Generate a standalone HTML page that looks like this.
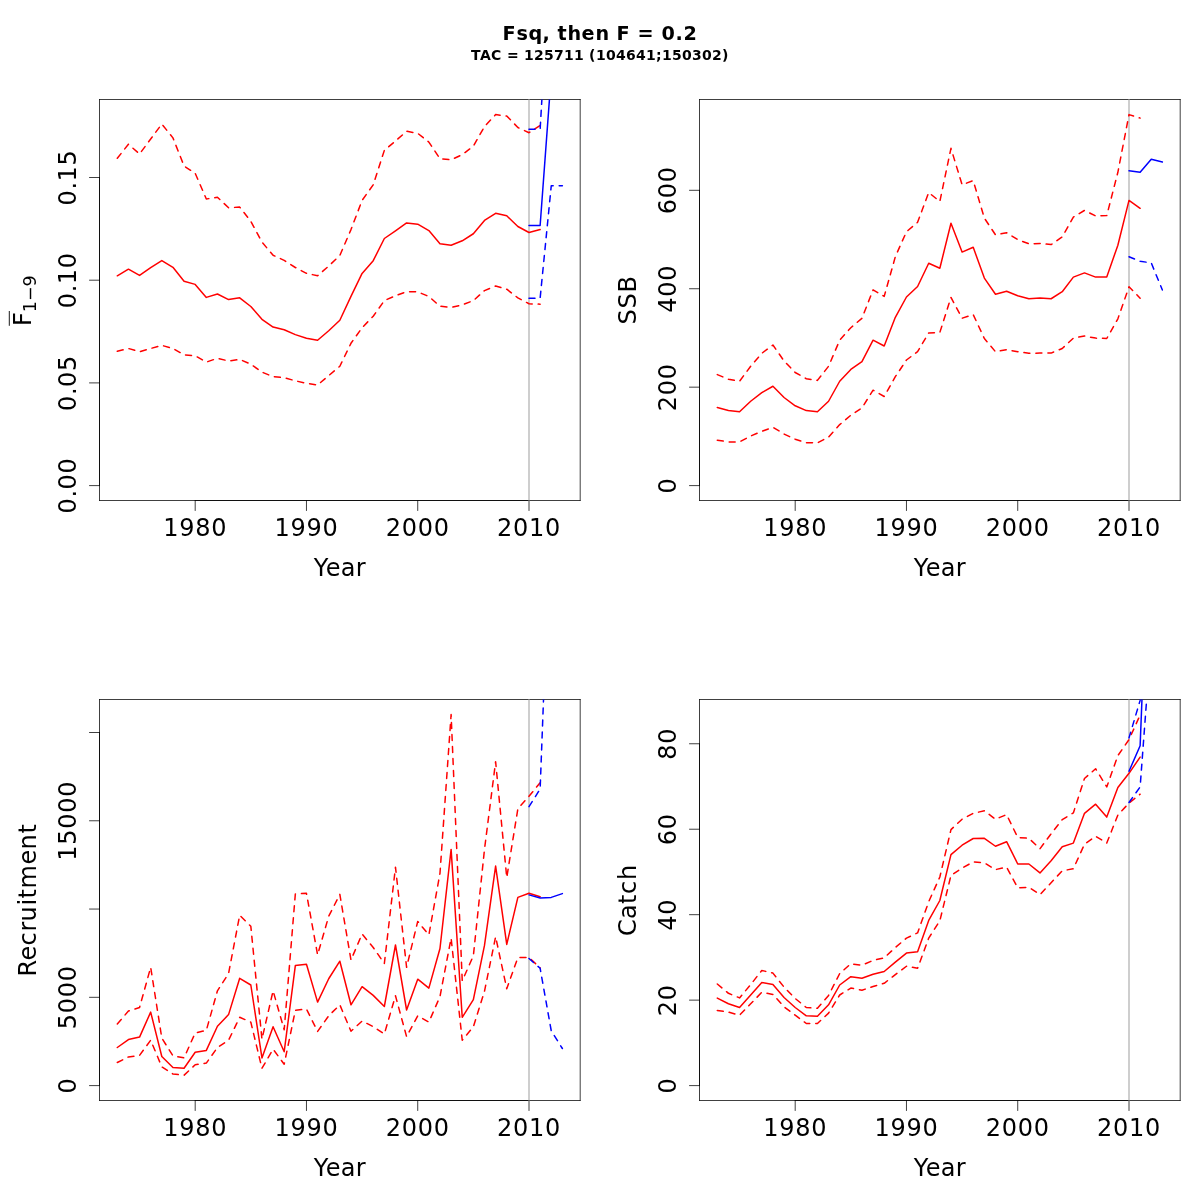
<!DOCTYPE html>
<html lang="en"><head><meta charset="utf-8"><title>Fsq, then F = 0.2</title>
<style>html,body{margin:0;padding:0;background:#fff}svg{display:block;will-change:transform}text{font-family:'DejaVu Sans','Liberation Sans',sans-serif;fill:#000}.r{fill:none;stroke:#ff0000;stroke-width:1.5;stroke-linecap:round;stroke-linejoin:round}.b{fill:none;stroke:#0000ff;stroke-width:1.5;stroke-linecap:round;stroke-linejoin:round}.d{stroke-dasharray:6 6}.k{fill:none;stroke:#000;stroke-width:0.75;stroke-linecap:round;stroke-linejoin:round}.g{fill:none;stroke:#bebebe;stroke-width:1.5;stroke-linecap:butt}.t{font-size:24px}</style></head><body>
<svg width="1200" height="1200" viewBox="0 0 1200 1200">
<rect x="0" y="0" width="1200" height="1200" fill="#ffffff"/>
<text x="502.50 516.50 528.50 542.50 550.50 557.50 567.50 581.50 595.50 609.50 616.50 630.50 637.50 654.50 661.50 675.50 683.50" y="39.80" font-size="19.2px" font-weight="bold">Fsq, then F = 0.2</text>
<text x="471.00 480.00 491.00 502.00 507.00 519.00 524.00 534.00 544.00 554.00 564.00 574.00 584.00 589.00 596.00 606.00 616.00 626.00 636.00 646.00 656.00 662.00 672.00 682.00 692.00 702.00 712.00 722.00" y="59.70" font-size="14px" font-weight="bold">TAC = 125711 (104641;150302)</text>
<path class="k" d="M99.5 99.5V500.5M99.5 500.5H580.2M580.2 500.5V99.5M580.2 99.5H99.5"/>
<path class="k" d="M195.19 500.5H529.00M195.19 500.5v10M306.46 500.5v10M417.73 500.5v10M529.00 500.5v10"/>
<text x="163.19 179.19 195.19 211.19" y="535.90" font-size="24px">1980</text>
<text x="274.46 290.46 306.46 322.46" y="535.90" font-size="24px">1990</text>
<text x="385.73 401.73 417.73 433.73" y="535.90" font-size="24px">2000</text>
<text x="497.00 513.00 529.00 545.00" y="535.90" font-size="24px">2010</text>
<text x="313.85 325.85 340.85 355.85" y="576.20" font-size="24px">Year</text>
<path class="k" d="M99.5 485.60V177.50M99.5 485.60h-10M99.5 382.90h-10M99.5 280.20h-10M99.5 177.50h-10"/>
<text transform="translate(75.70 485.60) rotate(-90)" x="-28.00 -12.00 -4.00 12.00" y="0" font-size="24px">0.00</text>
<text transform="translate(75.70 382.90) rotate(-90)" x="-28.00 -12.00 -4.00 12.00" y="0" font-size="24px">0.05</text>
<text transform="translate(75.70 280.20) rotate(-90)" x="-28.00 -12.00 -4.00 12.00" y="0" font-size="24px">0.10</text>
<text transform="translate(75.70 177.50) rotate(-90)" x="-28.00 -12.00 -4.00 12.00" y="0" font-size="24px">0.15</text>
<clipPath id="c1"><rect x="99.5" y="99.5" width="480.70000000000005" height="401.0"/></clipPath>
<g clip-path="url(#c1)">
<line class="g" x1="529.00" y1="94.5" x2="529.00" y2="505.5"/>
<polyline class="r" points="117.30,275.80 128.43,269.20 139.55,275.40 150.68,267.70 161.81,260.60 172.94,267.30 184.06,281.25 195.19,284.40 206.32,297.40 217.44,294.00 228.57,299.60 239.70,297.80 250.82,306.50 261.95,319.30 273.08,327.10 284.20,329.70 295.33,334.60 306.46,338.20 317.59,340.20 328.71,330.80 339.84,320.30 350.97,296.40 362.09,273.40 373.22,260.70 384.35,238.50 395.48,230.80 406.60,222.90 417.73,224.20 428.86,230.60 439.98,243.75 451.11,245.20 462.24,240.80 473.36,233.75 484.49,220.40 495.62,213.30 506.75,215.80 517.87,226.50 529.00,232.50 540.13,229.60"/>
<polyline class="r d" points="117.30,158.30 128.43,144.20 139.55,154.00 150.68,139.00 161.81,124.00 172.94,137.90 184.06,166.00 195.19,173.30 206.32,199.00 217.44,197.30 228.57,207.70 239.70,207.10 250.82,221.25 261.95,242.10 273.08,255.20 284.20,260.40 295.33,267.50 306.46,273.30 317.59,275.80 328.71,266.00 339.84,255.50 350.97,229.60 362.09,200.40 373.22,184.80 384.35,150.40 395.48,141.00 406.60,131.25 417.73,133.30 428.86,142.10 439.98,158.75 451.11,159.80 462.24,154.60 473.36,146.25 484.49,126.50 495.62,114.60 506.75,116.00 517.87,127.50 529.00,132.70 540.13,125.40"/>
<polyline class="r d" points="117.30,351.25 128.43,348.50 139.55,351.70 150.68,348.50 161.81,345.40 172.94,348.50 184.06,354.80 195.19,355.80 206.32,362.10 217.44,358.30 228.57,361.00 239.70,359.40 250.82,364.20 261.95,372.10 273.08,376.70 284.20,377.70 295.33,380.80 306.46,383.30 317.59,385.00 328.71,375.60 339.84,366.25 350.97,343.30 362.09,327.70 373.22,316.25 384.35,300.60 395.48,295.80 406.60,291.70 417.73,291.90 428.86,296.50 439.98,306.25 451.11,307.50 462.24,304.80 473.36,300.60 484.49,290.60 495.62,286.00 506.75,289.20 517.87,297.90 529.00,303.75 540.13,304.20"/>
<polyline class="b" points="529.00,225.50 540.13,225.50 551.25,75.00 562.38,75.00"/>
<polyline class="b d" points="529.00,129.20 540.13,129.20 551.25,-60.00 562.38,-60.00"/>
<polyline class="b d" points="529.00,298.20 540.13,298.20 551.25,185.80 562.38,185.80"/>
</g>
<g transform="translate(30.9 326) rotate(-90)"><text class="t" x="0" y="0">F<tspan font-size="17.5px" dy="5.1">1−9</tspan></text><line x1="0.2" y1="-21.6" x2="15" y2="-21.6" stroke="#000" stroke-width="0.9"/></g>
<path class="k" d="M699.5 99.5V500.5M699.5 500.5H1180.2M1180.2 500.5V99.5M1180.2 99.5H699.5"/>
<path class="k" d="M795.19 500.5H1129.00M795.19 500.5v10M906.46 500.5v10M1017.73 500.5v10M1129.00 500.5v10"/>
<text x="763.19 779.19 795.19 811.19" y="535.90" font-size="24px">1980</text>
<text x="874.46 890.46 906.46 922.46" y="535.90" font-size="24px">1990</text>
<text x="985.73 1001.73 1017.73 1033.73" y="535.90" font-size="24px">2000</text>
<text x="1097.00 1113.00 1129.00 1145.00" y="535.90" font-size="24px">2010</text>
<text x="913.85 925.85 940.85 955.85" y="576.20" font-size="24px">Year</text>
<path class="k" d="M699.5 485.60V190.30M699.5 485.60h-10M699.5 387.17h-10M699.5 288.74h-10M699.5 190.30h-10"/>
<text transform="translate(675.70 485.60) rotate(-90)" x="-8.00" y="0" font-size="24px">0</text>
<text transform="translate(675.70 387.17) rotate(-90)" x="-24.00 -8.00 8.00" y="0" font-size="24px">200</text>
<text transform="translate(675.70 288.74) rotate(-90)" x="-24.00 -8.00 8.00" y="0" font-size="24px">400</text>
<text transform="translate(675.70 190.30) rotate(-90)" x="-24.00 -8.00 8.00" y="0" font-size="24px">600</text>
<text transform="translate(635.70 300.00) rotate(-90)" x="-24.50 -8.50 7.50" y="0" font-size="24px">SSB</text>
<clipPath id="c2"><rect x="699.5" y="99.5" width="480.70000000000005" height="401.0"/></clipPath>
<g clip-path="url(#c2)">
<line class="g" x1="1129.00" y1="94.5" x2="1129.00" y2="505.5"/>
<polyline class="r" points="717.30,407.50 728.43,410.40 739.55,411.70 750.68,401.25 761.81,392.70 772.93,386.25 784.06,397.50 795.19,405.80 806.32,410.60 817.44,411.70 828.57,401.25 839.70,381.25 850.82,369.40 861.95,361.70 873.08,340.20 884.20,346.00 895.33,317.30 906.46,297.00 917.59,286.50 928.71,263.20 939.84,268.20 950.97,223.30 962.09,252.10 973.22,247.30 984.35,278.10 995.48,294.20 1006.60,291.25 1017.73,295.80 1028.86,298.75 1039.98,298.10 1051.11,298.75 1062.24,291.70 1073.36,277.10 1084.49,272.90 1095.62,277.10 1106.75,276.90 1117.87,245.20 1129.00,200.40 1140.13,208.30"/>
<polyline class="r d" points="717.30,374.60 728.43,379.20 739.55,381.25 750.68,366.25 761.81,353.30 772.93,345.00 784.06,361.00 795.19,372.50 806.32,378.75 817.44,380.40 828.57,366.25 839.70,340.20 850.82,327.70 861.95,318.30 873.08,289.90 884.20,296.40 895.33,256.70 906.46,231.70 917.59,222.30 928.71,192.50 939.84,201.50 950.97,148.30 962.09,184.80 973.22,180.60 984.35,218.10 995.48,234.80 1006.60,232.70 1017.73,239.60 1028.86,243.75 1039.98,243.50 1051.11,244.60 1062.24,236.90 1073.36,217.10 1084.49,210.40 1095.62,216.00 1106.75,215.60 1117.87,172.30 1129.00,114.60 1140.13,118.10"/>
<polyline class="r d" points="717.30,440.20 728.43,441.90 739.55,441.90 750.68,436.00 761.81,431.25 772.93,427.30 784.06,434.00 795.19,439.20 806.32,442.70 817.44,442.90 828.57,437.10 839.70,424.60 850.82,415.20 861.95,407.90 873.08,390.20 884.20,396.50 895.33,376.70 906.46,360.00 917.59,351.70 928.71,332.90 939.84,332.40 950.97,297.40 962.09,318.20 973.22,314.60 984.35,338.50 995.48,351.70 1006.60,349.60 1017.73,351.70 1028.86,353.30 1039.98,353.10 1051.11,353.10 1062.24,348.50 1073.36,338.10 1084.49,336.00 1095.62,338.10 1106.75,338.50 1117.87,318.80 1129.00,286.80 1140.13,298.20"/>
<polyline class="b" points="1129.00,170.80 1140.13,172.30 1151.25,159.20 1162.38,162.10"/>
<polyline class="b d" points="1129.00,256.70 1140.13,261.25 1151.25,262.90 1162.38,290.00"/>
</g>
<path class="k" d="M99.5 699.5V1100.5M99.5 1100.5H580.2M580.2 1100.5V699.5M580.2 699.5H99.5"/>
<path class="k" d="M195.19 1100.5H529.00M195.19 1100.5v10M306.46 1100.5v10M417.73 1100.5v10M529.00 1100.5v10"/>
<text x="163.19 179.19 195.19 211.19" y="1135.90" font-size="24px">1980</text>
<text x="274.46 290.46 306.46 322.46" y="1135.90" font-size="24px">1990</text>
<text x="385.73 401.73 417.73 433.73" y="1135.90" font-size="24px">2000</text>
<text x="497.00 513.00 529.00 545.00" y="1135.90" font-size="24px">2010</text>
<text x="313.85 325.85 340.85 355.85" y="1176.20" font-size="24px">Year</text>
<path class="k" d="M99.5 1085.60V732.50M99.5 1085.60h-10M99.5 997.32h-10M99.5 909.05h-10M99.5 820.77h-10M99.5 732.50h-10"/>
<text transform="translate(75.70 1085.60) rotate(-90)" x="-8.00" y="0" font-size="24px">0</text>
<text transform="translate(75.70 997.32) rotate(-90)" x="-32.00 -16.00 0.00 16.00" y="0" font-size="24px">5000</text>
<text transform="translate(75.70 820.77) rotate(-90)" x="-40.00 -24.00 -8.00 8.00 24.00" y="0" font-size="24px">15000</text>
<text transform="translate(35.70 900.00) rotate(-90)" x="-76.50 -60.50 -45.50 -31.50 -21.50 -5.50 1.50 11.50 35.50 50.50 66.50" y="0" font-size="24px">Recruitment</text>
<clipPath id="c3"><rect x="99.5" y="699.5" width="480.70000000000005" height="401.0"/></clipPath>
<g clip-path="url(#c3)">
<line class="g" x1="529.00" y1="694.5" x2="529.00" y2="1105.5"/>
<polyline class="r" points="117.30,1047.50 128.43,1039.60 139.55,1037.10 150.68,1012.10 161.81,1056.50 172.94,1067.50 184.06,1068.30 195.19,1052.30 206.32,1050.40 217.44,1026.25 228.57,1014.60 239.70,978.30 250.82,985.00 261.95,1057.90 273.08,1026.70 284.20,1051.70 295.33,965.60 306.46,964.20 317.59,1002.10 328.71,978.75 339.84,961.20 350.97,1004.80 362.09,986.70 373.22,995.40 384.35,1006.50 395.48,945.00 406.60,1010.00 417.73,979.20 428.86,988.10 439.98,948.50 451.11,849.40 462.24,1017.30 473.36,999.60 484.49,945.40 495.62,866.10 506.75,944.40 517.87,897.40 529.00,893.20 540.13,896.80"/>
<polyline class="r d" points="117.30,1024.00 128.43,1011.00 139.55,1007.50 150.68,967.30 161.81,1038.10 172.94,1055.80 184.06,1057.90 195.19,1032.90 206.32,1030.40 217.44,990.80 228.57,973.50 239.70,915.20 250.82,926.25 261.95,1039.20 273.08,990.80 284.20,1029.80 295.33,894.00 306.46,893.30 317.59,954.80 328.71,916.25 339.84,894.40 350.97,960.00 362.09,934.00 373.22,947.50 384.35,963.50 395.48,867.20 406.60,967.30 417.73,921.40 428.86,934.90 439.98,873.30 451.11,714.60 462.24,980.80 473.36,955.80 484.49,849.40 495.62,761.70 506.75,877.60 517.87,808.75 529.00,796.25 540.13,782.70"/>
<polyline class="r d" points="117.30,1062.50 128.43,1056.90 139.55,1055.40 150.68,1040.20 161.81,1066.90 172.94,1074.00 184.06,1075.20 195.19,1064.80 206.32,1063.10 217.44,1047.50 228.57,1040.20 239.70,1017.30 250.82,1022.10 261.95,1068.30 273.08,1049.20 284.20,1064.20 295.33,1010.40 306.46,1009.00 317.59,1031.50 328.71,1015.80 339.84,1004.80 350.97,1031.25 362.09,1021.00 373.22,1026.70 384.35,1034.00 395.48,995.80 406.60,1036.70 417.73,1015.80 428.86,1022.10 439.98,996.50 451.11,938.10 462.24,1040.20 473.36,1026.70 484.49,991.25 495.62,936.70 506.75,988.75 517.87,957.50 529.00,957.50 540.13,967.90"/>
<polyline class="b" points="529.00,894.90 540.13,898.00 551.25,897.40 562.38,893.60"/>
<polyline class="b d" points="529.00,806.70 540.13,789.00 551.25,495.00 562.38,495.00"/>
<polyline class="b d" points="529.00,958.50 540.13,968.30 551.25,1030.80 562.38,1048.50"/>
</g>
<path class="k" d="M699.5 699.5V1100.5M699.5 1100.5H1180.2M1180.2 1100.5V699.5M1180.2 699.5H699.5"/>
<path class="k" d="M795.19 1100.5H1129.00M795.19 1100.5v10M906.46 1100.5v10M1017.73 1100.5v10M1129.00 1100.5v10"/>
<text x="763.19 779.19 795.19 811.19" y="1135.90" font-size="24px">1980</text>
<text x="874.46 890.46 906.46 922.46" y="1135.90" font-size="24px">1990</text>
<text x="985.73 1001.73 1017.73 1033.73" y="1135.90" font-size="24px">2000</text>
<text x="1097.00 1113.00 1129.00 1145.00" y="1135.90" font-size="24px">2010</text>
<text x="913.85 925.85 940.85 955.85" y="1176.20" font-size="24px">Year</text>
<path class="k" d="M699.5 1085.60V743.75M699.5 1085.60h-10M699.5 1000.14h-10M699.5 914.68h-10M699.5 829.22h-10M699.5 743.75h-10"/>
<text transform="translate(675.70 1085.60) rotate(-90)" x="-8.00" y="0" font-size="24px">0</text>
<text transform="translate(675.70 1000.14) rotate(-90)" x="-16.00 0.00" y="0" font-size="24px">20</text>
<text transform="translate(675.70 914.68) rotate(-90)" x="-16.00 0.00" y="0" font-size="24px">40</text>
<text transform="translate(675.70 829.22) rotate(-90)" x="-16.00 0.00" y="0" font-size="24px">60</text>
<text transform="translate(675.70 743.75) rotate(-90)" x="-16.00 0.00" y="0" font-size="24px">80</text>
<text transform="translate(635.70 900.00) rotate(-90)" x="-36.00 -19.00 -4.00 6.00 20.00" y="0" font-size="24px">Catch</text>
<clipPath id="c4"><rect x="699.5" y="699.5" width="480.70000000000005" height="401.0"/></clipPath>
<g clip-path="url(#c4)">
<line class="g" x1="1129.00" y1="694.5" x2="1129.00" y2="1105.5"/>
<polyline class="r" points="717.30,998.10 728.43,1003.75 739.55,1007.50 750.68,995.00 761.81,982.50 772.93,984.60 784.06,997.50 795.19,1007.50 806.32,1015.80 817.44,1016.25 828.57,1004.80 839.70,985.00 850.82,976.70 861.95,978.30 873.08,974.20 884.20,971.50 895.33,962.10 906.46,953.10 917.59,951.70 928.71,920.40 939.84,900.50 950.97,854.60 962.09,845.20 973.22,838.50 984.35,838.30 995.48,846.25 1006.60,841.70 1017.73,864.00 1028.86,864.00 1039.98,872.90 1051.11,860.80 1062.24,846.70 1073.36,843.10 1084.49,813.30 1095.62,804.20 1106.75,817.10 1117.87,787.50 1129.00,773.30 1140.13,757.10"/>
<polyline class="r d" points="717.30,984.00 728.43,993.30 739.55,997.90 750.68,984.60 761.81,970.40 772.93,973.10 784.06,987.10 795.19,998.50 806.32,1007.50 817.44,1008.30 828.57,995.40 839.70,973.50 850.82,963.75 861.95,965.20 873.08,960.40 884.20,957.90 895.33,947.50 906.46,938.10 917.59,932.90 928.71,901.70 939.84,877.00 950.97,829.60 962.09,819.20 973.22,813.30 984.35,810.80 995.48,819.20 1006.60,814.60 1017.73,837.50 1028.86,838.30 1039.98,848.75 1051.11,833.75 1062.24,819.60 1073.36,812.90 1084.49,778.50 1095.62,768.75 1106.75,786.90 1117.87,755.60 1129.00,739.60 1140.13,715.00"/>
<polyline class="r d" points="717.30,1010.40 728.43,1012.10 739.55,1015.20 750.68,1003.75 761.81,992.30 772.93,994.40 784.06,1006.90 795.19,1015.20 806.32,1023.50 817.44,1023.50 828.57,1013.10 839.70,995.00 850.82,988.10 861.95,990.20 873.08,986.50 884.20,983.30 895.33,974.60 906.46,966.25 917.59,968.30 928.71,938.10 939.84,920.80 950.97,875.40 962.09,868.10 973.22,861.90 984.35,862.90 995.48,869.60 1006.60,867.10 1017.73,887.90 1028.86,887.30 1039.98,894.60 1051.11,882.70 1062.24,870.80 1073.36,868.75 1084.49,844.20 1095.62,836.25 1106.75,843.10 1117.87,815.00 1129.00,803.10 1140.13,794.20"/>
<polyline class="b" points="1129.00,771.25 1140.13,745.80 1151.25,465.00 1162.38,465.00"/>
<polyline class="b d" points="1129.00,737.90 1140.13,700.40 1151.25,400.00 1162.38,400.00"/>
<polyline class="b d" points="1129.00,802.50 1140.13,786.90 1151.25,638.00 1162.38,638.00"/>
</g>
</svg></body></html>
